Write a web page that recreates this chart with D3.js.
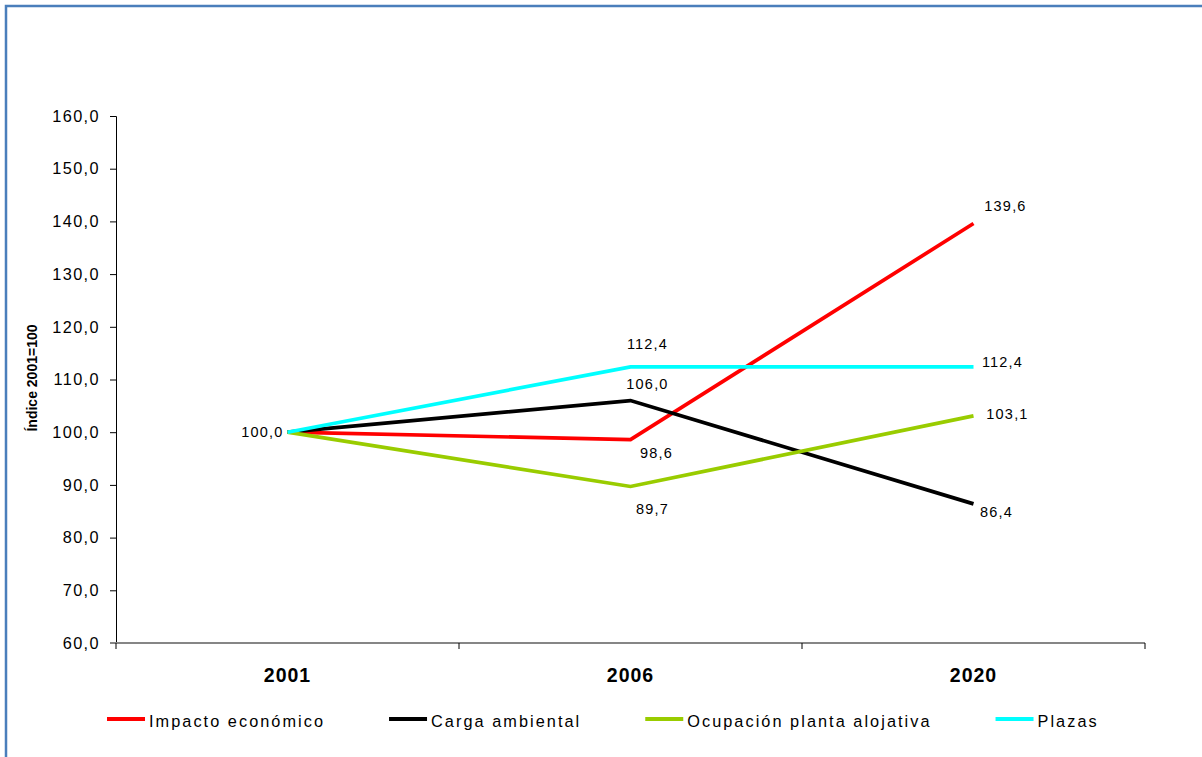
<!DOCTYPE html>
<html><head><meta charset="utf-8">
<script src="https://cdn.jsdelivr.net/npm/d3@7"></script>
<style>
html,body{margin:0;padding:0;background:#fff;}
svg{display:block;font-family:"Liberation Sans",Arial,sans-serif;}
</style></head>
<body>
<svg id="chart" width="1202" height="757"></svg>
<script>
const categories = ["2001", "2006", "2020"];
const seriesNames = ["Impacto económico", "Carga ambiental", "Ocupación planta alojativa", "Plazas"];
const impactoEconomico = [100.0, 98.6, 139.6];
const cargaAmbiental = [100.0, 106.0, 86.4];
const ocupacionPlanta = [100.0, 89.7, 103.1];
const plazas = [100.0, 112.4, 112.4];
const yTicks = [60, 70, 80, 90, 100, 110, 120, 130, 140, 150, 160];
const yTitle = "Índice 2001=100";

(function () {
const seriesValues = [impactoEconomico, cargaAmbiental, ocupacionPlanta, plazas];
const colors = ["#ff0000", "#000000", "#99cc00", "#00ffff"];

// label placement (offsets from the point: dx, dy of baseline), per series & index; null = no label
const labelPlacement = [
  [{dx:-4, dy:5, anchor:"end"}, {dx:26, dy:18}, {dx:32, dy:-13}],
  [null, {dx:17, dy:-12}, {dx:23, dy:13}],
  [null, {dx:22, dy:28}, {dx:34, dy:3}],
  [null, {dx:17, dy:-18}, {dx:29, dy:0}]
];

const svg = d3.select("#chart");
const fmt = v => d3.format(".1f")(v).replace(".", ",");

// frame
svg.append("rect").attr("x", 6).attr("y", 6).attr("width", 1260).attr("height", 800)
  .attr("fill", "none").attr("stroke", "#4a7ebb").attr("stroke-width", 2.5);

const mLeft = 116, mRight = 1145, mTop = 116, mBottom = 643;
const x = d3.scaleBand().domain(categories).range([mLeft, mRight]);
const y = d3.scaleLinear().domain([60, 160]).range([mBottom, mTop]);

// y axis
const yAxis = svg.append("g").attr("transform", `translate(${mLeft},0)`)
  .call(d3.axisLeft(y).tickValues(yTicks).tickSize(6).tickPadding(10).tickFormat(fmt));
yAxis.select(".domain").attr("stroke", "#000").attr("stroke-width", 1);
yAxis.selectAll(".tick line").attr("stroke", "#000");
yAxis.selectAll(".tick text").attr("font-size", 16.3).attr("fill", "#000")
  .attr("font-family", "'Liberation Sans',Arial,sans-serif").style("letter-spacing", "1.4px");

// x axis
const xg = svg.append("g");
xg.append("line").attr("x1", mLeft - 6).attr("x2", mRight).attr("y1", mBottom).attr("y2", mBottom)
  .attr("stroke", "#868686").attr("stroke-width", 2);
const tickXs = categories.map(c => x(c)).concat([x.range()[1]]);
xg.selectAll("line.tk").data(tickXs).join("line").attr("class", "tk")
  .attr("x1", d => d).attr("x2", d => d).attr("y1", mBottom).attr("y2", mBottom + 6)
  .attr("stroke", "#000").attr("stroke-width", 1);
xg.selectAll("text").data(categories).join("text")
  .attr("x", d => x(d) + x.bandwidth() / 2).attr("y", 682)
  .attr("text-anchor", "middle").attr("font-size", 19.5).attr("font-weight", "bold")
  .style("letter-spacing", "1px").text(d => d);

// y title
svg.append("text").attr("transform", `translate(37,378) rotate(-90)`)
  .attr("text-anchor", "middle").attr("font-size", 14).attr("font-weight", "bold")
  .text(yTitle);

// lines
const line = d3.line().x((d, i) => x(categories[i]) + x.bandwidth() / 2).y(d => y(d));
seriesValues.forEach((vals, s) => {
  svg.append("path").datum(vals).attr("d", line).attr("fill", "none")
    .attr("stroke", colors[s]).attr("stroke-width", 3.7).attr("stroke-linejoin", "miter");
});

// labels
seriesValues.forEach((vals, s) => {
  vals.forEach((v, i) => {
    const p = labelPlacement[s][i];
    if (!p) return;
    svg.append("text")
      .attr("x", x(categories[i]) + x.bandwidth() / 2 + p.dx)
      .attr("y", y(v) + p.dy)
      .attr("text-anchor", p.anchor || "middle")
      .attr("font-size", 14.5).style("letter-spacing", "1.2px").attr("fill", "#000")
      .text(fmt(v));
  });
});

// legend
let lx = 107;
const ly = 719;
seriesNames.forEach((name, s) => {
  const g = svg.append("g");
  g.append("line").attr("x1", lx).attr("x2", lx + 38).attr("y1", ly).attr("y2", ly)
    .attr("stroke", colors[s]).attr("stroke-width", 4);
  const t = g.append("text").attr("x", lx + 42).attr("y", 727).attr("font-size", 16.3)
    .style("letter-spacing", "2.05px").text(name);
  const w = t.node().getComputedTextLength();
  lx = lx + 42 + w + 64;
});
})();
</script>
</body></html>
